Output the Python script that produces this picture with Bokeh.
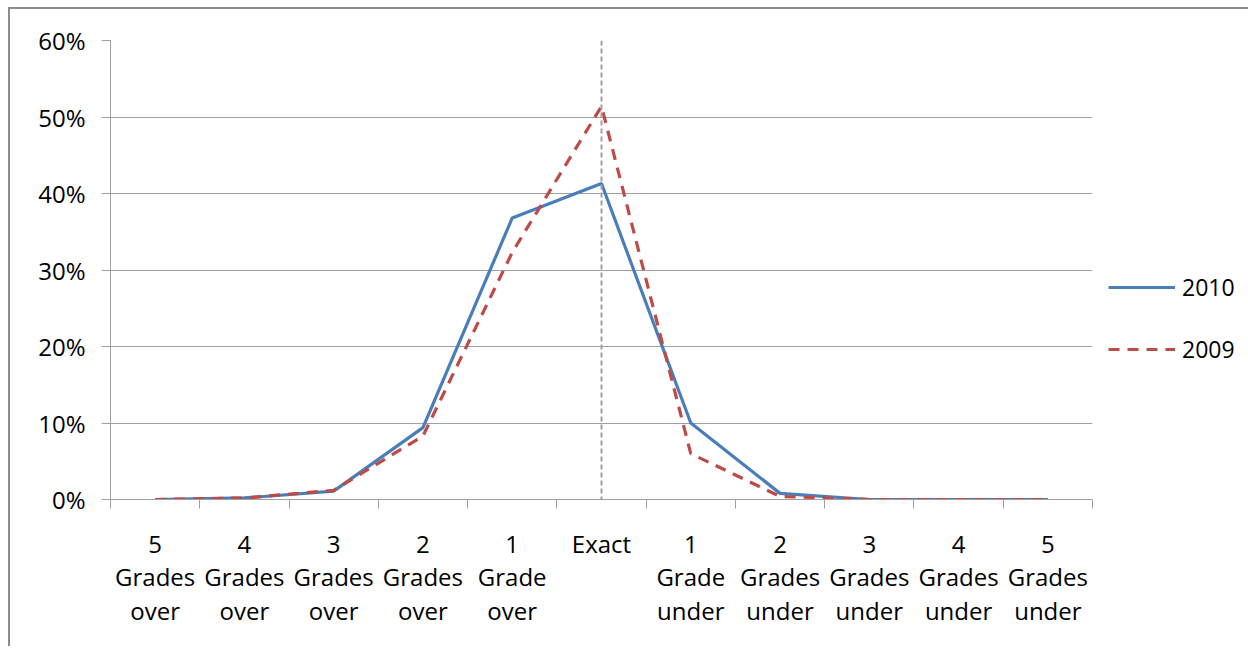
from bokeh.plotting import figure
from bokeh.models import Range1d, FixedTicker, NumeralTickFormatter, Span, Legend, LegendItem
from bokeh.embed import file_html
from bokeh.resources import INLINE

categories = ["5\nGrades\nover", "4\nGrades\nover", "3\nGrades\nover", "2\nGrades\nover",
              "1\nGrade\nover", "Exact", "1\nGrade\nunder", "2\nGrades\nunder",
              "3\nGrades\nunder", "4\nGrades\nunder", "5\nGrades\nunder"]
series_2010 = [0.0, 0.2, 1.1, 9.4, 36.8, 41.3, 10.0, 0.8, 0.0, 0.0, 0.0]
series_2009 = [0.0, 0.2, 1.2, 8.3, 32.3, 51.4, 6.0, 0.4, 0.0, 0.0, 0.0]
y_ticks = [0, 0.1, 0.2, 0.3, 0.4, 0.5, 0.6]

n = len(categories)
xs = list(range(1, n + 1))
exact_pos = xs[categories.index("Exact")]

FONT = "Open Sans"
GRAY = "#a0a0a0"

p = figure(frame_width=982, frame_height=459, output_backend="svg", toolbar_location=None,
           x_range=Range1d(0.5, n + 0.5), y_range=Range1d(0, 0.6),
           min_border_left=100, min_border_top=31, min_border_right=0, min_border_bottom=147,
           styles={"border-left": "2px solid #8c8c8c", "border-top": "2px solid #8c8c8c",
                   "margin-left": "8px", "margin-top": "7px"})
p.outline_line_color = None
p.background_fill_color = "white"

# x axis
p.xaxis.ticker = FixedTicker(ticks=xs, minor_ticks=[x - 0.5 for x in xs] + [n + 0.5])
p.xaxis.major_label_overrides = {x: c for x, c in zip(xs, categories)}
p.xaxis.major_tick_out = 0
p.xaxis.major_tick_in = 0
p.xaxis.minor_tick_out = 9
p.xaxis.minor_tick_in = 0
p.xaxis.minor_tick_line_color = GRAY
p.xaxis.axis_line_color = GRAY
p.xaxis.major_label_text_font = FONT
p.xaxis.major_label_text_font_size = "24px"
p.xaxis.major_label_text_color = "black"
p.xaxis.major_label_text_line_height = 1.03
p.xaxis.major_label_standoff = 18
p.xgrid.grid_line_color = None

# y axis
p.yaxis.ticker = FixedTicker(ticks=y_ticks)
p.yaxis.formatter = NumeralTickFormatter(format="0%")
p.yaxis.major_tick_out = 9
p.yaxis.major_tick_in = 0
p.yaxis.minor_tick_line_color = None
p.yaxis.major_tick_line_color = GRAY
p.yaxis.axis_line_color = GRAY
p.yaxis.major_label_text_font = FONT
p.yaxis.major_label_text_font_size = "24px"
p.yaxis.major_label_text_color = "black"
p.yaxis.major_label_standoff = 16
p.ygrid.grid_line_color = GRAY
p.ygrid.grid_line_width = 1

p.add_layout(Span(location=exact_pos, dimension="height", line_color=GRAY,
                  line_width=2, line_dash="5 3"))

y10 = [v / 100 for v in series_2010]
y09 = [v / 100 for v in series_2009]
r10 = p.line(xs, y10, line_color="#4a7ebb", line_width=3.2)
r09 = p.line(xs, y09, line_color="#be4b48", line_width=3.2, line_dash="11 8")

legend = Legend(items=[LegendItem(label="2010", renderers=[r10]),
                       LegendItem(label="2009", renderers=[r09])],
                location=(16, 134), orientation="vertical",
                glyph_width=67, glyph_height=20, label_height=20, spacing=30,
                padding=0, margin=0, label_standoff=7,
                label_text_font=FONT, label_text_font_size="23px",
                label_text_color="black",
                border_line_color=None, background_fill_alpha=0)
p.add_layout(legend, "right")

open("out.html", "w").write(file_html(p, INLINE))
